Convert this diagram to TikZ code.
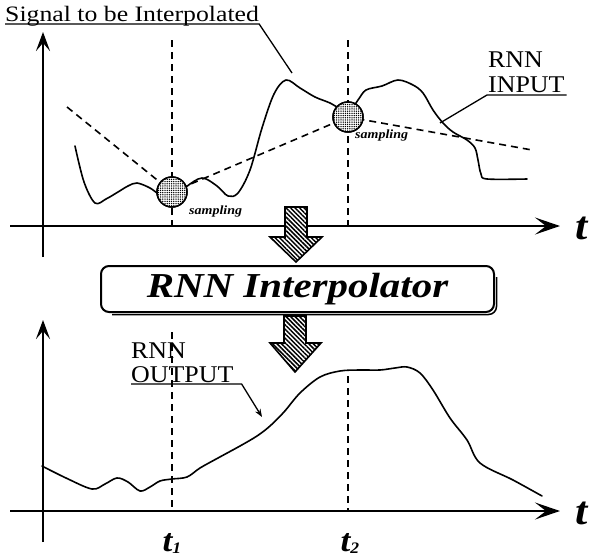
\documentclass[tikz,border=0pt]{standalone}
\usepackage{fontspec}
\setmainfont{Liberation Serif}
\usetikzlibrary{arrows.meta,patterns.meta}
\newcommand\hstr[2]{\scalebox{#1}[1]{#2}}
\begin{document}
\begin{tikzpicture}[x=1pt,y=-1pt,
  axis/.style={line width=2.6pt},
  haxis/.style={axis,-{Stealth[length=25pt,width=17pt,inset=11pt]}},
  vaxis/.style={axis,-{Stealth[length=19pt,width=14pt,inset=8pt]}},
  curve/.style={line width=1.6pt,line join=round,line cap=round},
  dashln/.style={line width=1.6pt,dash pattern=on 7pt off 5pt},
  leader/.style={line width=1.3pt},
  samp/.style={circle,draw,line width=1.5pt,minimum size=30pt,inner sep=0pt,
    preaction={fill=white},pattern={Dots[distance=2.2pt,radius=0.75pt]}},
  lbl/.style={inner sep=0pt,font=\fontsize{22}{22}\selectfont},
  tlbl/.style={inner sep=0pt,font=\fontsize{40}{40}\selectfont\bfseries\itshape},
  sublbl/.style={inner sep=0pt,font=\fontsize{32}{32}\selectfont\bfseries\itshape},
  samplbl/.style={inner sep=0pt,font=\fontsize{12.5}{12.5}\selectfont\bfseries\itshape},
  bigarrow/.style={draw,line width=1.6pt,line join=miter,preaction={fill=white},
    pattern={Lines[angle=-45,distance=3.2pt,line width=1.5pt]}},
  box/.style={draw,line width=2pt,rounded corners=8pt,minimum width=393pt,minimum height=46pt,inner sep=0pt,
    font=\fontsize{35}{35}\selectfont\bfseries\itshape}
]
\useasboundingbox (0,0) rectangle (590,560);

% ---------- top panel ----------
\coordinate (tx0) at (10,226);
\coordinate (tx1) at (560,226);
\coordinate (ty0) at (43,257);
\coordinate (ty1) at (43,32);
\draw[haxis] (tx0) -- (tx1);
\draw[vaxis] (ty0) -- (ty1);
\node[tlbl,anchor=base] (tt) at (582,239) {\hstr{1.1}{t}};

\coordinate (d1a) at (172,40);
\coordinate (d1b) at (172,226);
\coordinate (d2a) at (348,40);
\coordinate (d2b) at (348,226);
\draw[dashln] (d1a) -- (d1b);
\draw[dashln] (d2a) -- (d2b);

% signal curve
\draw[curve] plot[smooth,tension=0.55] coordinates {
 (75,146) (84,182) (95,203) (106,199) (118,192) (128,186) (137,183) (150,188) (160,195) (172,200)
 (186,187) (202,178) (217,186) (228,196) (238,193) (250,170) (262,128) (274,94) (286,80)
 (300,88) (315,97) (330,103) (348,112) (358,100) (366,90) (382,86) (398,80) (413,85)
 (423,93) (433,110) (443,123) (453,132) (467,140) (475,148) (478,160) (481,174) (487,179) (527,179)};

% RNN input (dashed)
\coordinate (in0) at (67,107);
\coordinate (in3) at (532,150);
\node[samp] (s1) at (172,192) {};
\node[samp] (s2) at (348,117) {};
\draw[dashln] (in0) -- (s1.center) -- (s2.center) -- (in3);
\node[samp] at (s1) {};
\node[samp] at (s2) {};
\node[samplbl,anchor=base west] (sl1) at (189,214) {\hstr{1.12}{sampling}};
\node[samplbl,anchor=base west] (sl2) at (355,138) {\hstr{1.12}{sampling}};

% labels
\node[lbl,anchor=base west] (sig) at (5,21) {\hstr{1.17}{Signal to be Interpolated}};
\coordinate (sigE) at (292,73);
\draw[leader] ([yshift=-3pt]sig.base west) -- ([yshift=-3pt]sig.base east) -- (sigE);

\node[lbl,anchor=base west,font=\fontsize{24}{24}\selectfont] (rin1) at (488,67) {\hstr{1.08}{RNN}};
\node[lbl,anchor=base west,font=\fontsize{24}{24}\selectfont] (rin2) at (488,92) {\hstr{1.08}{INPUT}};
\coordinate (rinE) at (440,123);
\draw[leader] ([xshift=2pt,yshift=-3pt]rin2.base east) -- ([xshift=-1pt,yshift=-3pt]rin2.base west) -- (rinE);

% big arrow 1
\draw[bigarrow] (285,207) -- (307,207) -- (307,237) -- (322,237) -- (296,262) -- (270,237) -- (285,237) -- cycle;

% box
\node[box] (rnn) at (297.5,289) {\hstr{1.17}{RNN Interpolator}};
\draw[line width=1.5pt,rounded corners=8pt] ([xshift=1.5pt,yshift=-12pt]rnn.north east) -- ([xshift=1.5pt,yshift=-1.5pt]rnn.south east) -- ([xshift=12pt,yshift=-1.5pt]rnn.south west);

% big arrow 2
\draw[bigarrow] (284,316) -- (306,316) -- (306,343) -- (321,343) -- (295,372) -- (270,343) -- (284,343) -- cycle;

% ---------- bottom panel ----------
\coordinate (bx0) at (10,511);
\coordinate (bx1) at (560,511);
\coordinate (by0) at (43,542);
\coordinate (by1) at (43,320);
\draw[haxis] (bx0) -- (bx1);
\draw[vaxis] (by0) -- (by1);
\node[tlbl,anchor=base] (bt) at (582,524) {\hstr{1.1}{t}};

\coordinate (e1a) at (172,332);
\coordinate (e1b) at (172,511);
\coordinate (e2a) at (348,376);
\coordinate (e2b) at (348,511);
\draw[dashln] (e1a) -- (e1b);
\draw[dashln] (e2a) -- (e2b);

\draw[curve] plot[smooth,tension=0.55] coordinates {
 (42,466) (66,478) (92,489) (105,484) (117,478) (128,482) (140,491) (150,487) (160,481) (172,479)
 (187,477) (200,468) (218,458) (240,446) (257,436) (270,426) (284,412) (300,393) (320,377)
 (340,371) (360,370) (380,370) (395,368) (407,367) (420,373) (433,390) (450,418) (467,440)
 (480,463) (513,480) (542,496)};

\node[lbl,anchor=base west,font=\fontsize{24}{24}\selectfont] (rout1) at (131,358) {\hstr{1.08}{RNN}};
\node[lbl,anchor=base west,font=\fontsize{24}{24}\selectfont] (rout2) at (131,382) {\hstr{1.08}{OUTPUT}};
\coordinate (routE) at (262,417);
\draw[leader,-{Stealth[length=8pt,width=6pt]}] ([yshift=-2pt]rout2.base west) -- ([xshift=8pt,yshift=-2pt]rout2.base east) -- (routE);

\node[sublbl,anchor=base] (t1) at (172,551) {\hstr{1.1}{t\raisebox{-2pt}{\fontsize{16}{16}\selectfont 1}}};
\node[sublbl,anchor=base] (t2) at (350,551) {\hstr{1.1}{t\raisebox{-2pt}{\fontsize{16}{16}\selectfont 2}}};
\end{tikzpicture}
\end{document}
